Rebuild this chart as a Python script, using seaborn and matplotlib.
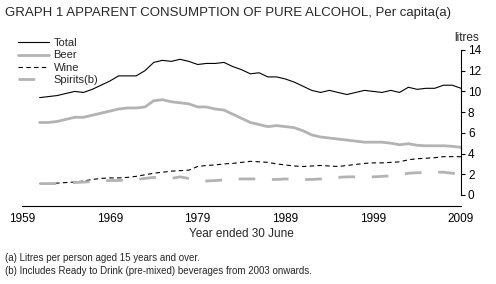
import numpy as np
import pandas as pd
import seaborn as sns
import matplotlib.pyplot as plt

years = list(range(1961, 2010))

total = [9.4, 9.5, 9.6, 9.8, 10.0, 9.9, 10.2, 10.6, 11.0, 11.5,
         11.5, 11.5, 12.0, 12.8, 13.0, 12.9, 13.1, 12.9, 12.6, 12.7,
         12.7, 12.8, 12.4, 12.1, 11.7, 11.8, 11.4, 11.4, 11.2, 10.9,
         10.5, 10.1, 9.9, 10.1, 9.9, 9.7, 9.9, 10.1, 10.0, 9.9,
         10.1, 9.9, 10.4, 10.2, 10.3, 10.3, 10.6, 10.6, 10.3]

beer = [7.0, 7.0, 7.1, 7.3, 7.5, 7.5, 7.7, 7.9, 8.1, 8.3,
        8.4, 8.4, 8.5, 9.1, 9.2, 9.0, 8.9, 8.8, 8.5, 8.5,
        8.3, 8.2, 7.8, 7.4, 7.0, 6.8, 6.6, 6.7, 6.6, 6.5,
        6.2, 5.8, 5.6, 5.5, 5.4, 5.3, 5.2, 5.1, 5.1, 5.1,
        5.0, 4.85, 4.95, 4.8, 4.75, 4.75, 4.75, 4.7, 4.6]

wine = [1.1, 1.1, 1.15, 1.2, 1.25, 1.35, 1.5, 1.6, 1.65, 1.65,
        1.7, 1.8, 1.95, 2.1, 2.2, 2.3, 2.35, 2.4, 2.75, 2.85,
        2.9, 3.0, 3.05, 3.15, 3.25, 3.2, 3.15, 3.0, 2.9, 2.8,
        2.75, 2.8, 2.85, 2.8, 2.75, 2.85, 2.95, 3.05, 3.1, 3.1,
        3.15, 3.2, 3.4, 3.5, 3.55, 3.6, 3.7, 3.7, 3.7]

spirits = [1.1, 1.1, 1.1, 1.15, 1.2, 1.25, 1.3, 1.35, 1.4, 1.4,
           1.45, 1.5, 1.6, 1.7, 1.65, 1.6, 1.75, 1.6, 1.35, 1.35,
           1.4, 1.45, 1.5, 1.55, 1.55, 1.55, 1.5, 1.5, 1.55, 1.5,
           1.5, 1.5, 1.55, 1.6, 1.7, 1.75, 1.75, 1.75, 1.75, 1.8,
           1.85, 1.95, 2.1, 2.15, 2.15, 2.2, 2.2, 2.1, 2.05]

series_names = ['Total', 'Beer', 'Wine', 'Spirits(b)']
x_ticks = [1959, 1969, 1979, 1989, 1999, 2009]
y_ticks = [0, 2, 4, 6, 8, 10, 12, 14]

df = pd.DataFrame({'year': years, 'Total': total, 'Beer': beer,
                   'Wine': wine, 'Spirits(b)': spirits})

sns.set_style('white')
plt.rcParams['font.family'] = ['Liberation Sans', 'DejaVu Sans']

fig = plt.figure(figsize=(4.96, 2.84), dpi=100)
ax = fig.add_axes([0.0444, 0.3134, 0.8851, 0.5106])

styles = {
    'Total': dict(color='black', linewidth=0.8, linestyle='-'),
    'Beer': dict(color='#b3b3b3', linewidth=2.0, linestyle='-'),
    'Wine': dict(color='black', linewidth=0.8, linestyle=(0, (4, 3))),
    'Spirits(b)': dict(color='#b3b3b3', linewidth=2.0, linestyle=(0, (6, 6))),
}
for name in series_names:
    sns.lineplot(data=df, x='year', y=name, ax=ax, label=name, **styles[name])

ax.set_xlim(1959, 2009)
ax.set_ylim(0, 14)
ax.set_xticks(x_ticks)
ax.set_yticks(y_ticks)
ax.yaxis.tick_right()
ax.spines['left'].set_visible(False)
ax.spines['top'].set_visible(False)
ax.spines['right'].set_visible(True)
ax.spines['bottom'].set_position(('outward', 8))
for s in ['right', 'bottom']:
    ax.spines[s].set_color('black')
    ax.spines[s].set_linewidth(0.8)
ax.tick_params(axis='both', direction='out', length=3, width=0.8,
               colors='black', labelsize=8.5)
ax.tick_params(axis='y', pad=2)
ax.tick_params(axis='x', pad=2)
ax.set_xlabel('Year ended 30 June', fontsize=8.5, labelpad=2)
ax.set_ylabel('')

ax.legend(loc='upper left', bbox_to_anchor=(0.025, 0.885), bbox_transform=fig.transFigure,
          frameon=False, fontsize=8, handlelength=2.8, handletextpad=0.4,
          labelspacing=0.2, borderpad=0)

fig.text(0.01, 0.955, 'GRAPH 1 APPARENT CONSUMPTION OF PURE ALCOHOL, Per capita(a)',
         fontsize=9.5, va='center', ha='left')
fig.text(0.915, 0.865, 'litres', fontsize=8.5, va='center', ha='left')
fig.text(0.01, 0.09, '(a) Litres per person aged 15 years and over.',
         fontsize=7, va='center', ha='left')
fig.text(0.01, 0.045, '(b) Includes Ready to Drink (pre-mixed) beverages from 2003 onwards.',
         fontsize=7, va='center', ha='left')

fig.savefig('out.png', dpi=100)
